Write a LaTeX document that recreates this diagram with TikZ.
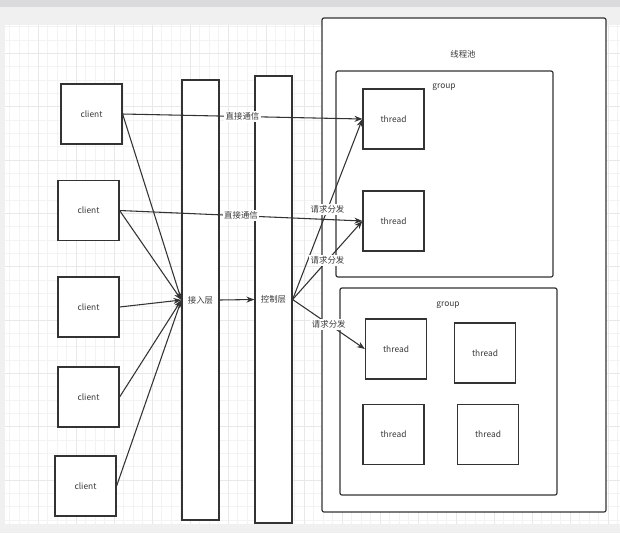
\documentclass[tikz,border=0pt]{standalone}
\usepackage{fontspec}
\setmainfont{Noto Sans CJK SC}
\usetikzlibrary{arrows.meta}

\definecolor{linegray}{HTML}{333333}
\definecolor{textgray}{HTML}{3A3A3A}
\definecolor{gridminor}{HTML}{F3F3F3}
\definecolor{gridmajor}{HTML}{E8E8E8}
\definecolor{bandgray}{HTML}{DADADD}
\definecolor{palegray}{HTML}{F0F0F0}

\begin{document}
\begin{tikzpicture}[x=0.75pt, y=-0.75pt,
  font=\fontsize{6.3}{7.5}\selectfont,
  box/.style={draw=linegray, line width=0.9pt, fill=white, text=textgray,
    minimum width=45.75pt, minimum height=45pt, inner sep=0pt},
  bar/.style={draw=linegray, line width=0.9pt, fill=white, text=textgray,
    minimum width=27.75pt, inner sep=0pt},
  frame/.style={draw=linegray, line width=0.9pt, fill=white,
    rounded corners=1.5pt, inner sep=0pt},
  link/.style={draw=linegray, line width=0.8pt, -{Stealth[length=6pt,width=4.5pt]}},
  tag/.style={fill=white, inner sep=1.2pt, text=textgray}]
\useasboundingbox (0,0) rectangle (620,533);

% canvas
\fill[white] (0,0) rectangle (620,533);
\draw[gridminor, line width=0.5pt, xstep=7.125pt, ystep=10pt] (5,25) grid (620,524);
\draw[gridmajor, line width=0.5pt, xstep=28.5pt, ystep=40pt] (5,25) grid (620,524);
\fill[palegray] (0,7) rectangle (620,25);
\fill[bandgray] (0,0) rectangle (620,7);
\fill[palegray] (0,7) rectangle (5,533);
\fill[palegray] (0,524) rectangle (620,533);

% thread pool
\node[frame, minimum width=213pt, minimum height=370.5pt] (pool) at (464,265) {};
\node[text=textgray] (pooltitle) at (463,54) {线程池};

\node[frame, minimum width=162.75pt, minimum height=154.5pt] (group1) at (444.5,174) {};
\node[text=textgray] (group1title) at (444,87) {group};
\node[box] (t1) at (393.5,119) {thread};
\node[box] (t2) at (393.5,221) {thread};

\node[frame, minimum width=162.75pt, minimum height=155.25pt] (group2) at (448.5,391.5) {};
\node[text=textgray] (group2title) at (448,305) {group};
\node[box] (t3) at (396,349) {thread};
\node[box] (t4) at (485,353) {thread};
\node[box] (t5) at (393.5,434.5) {thread};
\node[box] (t6) at (488,434.5) {thread};

% layers
\node[bar, minimum height=330pt] (access) at (200.5,300) {接入层};
\node[bar, minimum height=335.25pt] (ctrl) at (273.5,299.5) {控制层};

% clients
\node[box] (c1) at (91.5,114) {client};
\node[box] (c2) at (88.5,210.5) {client};
\node[box] (c3) at (88.5,307) {client};
\node[box] (c4) at (88.5,397) {client};
\node[box] (c5) at (85.5,486) {client};

% client -> access
\draw[link] (c1.east) -- (access.west);
\draw[link] (c2.east) -- (access.west);
\draw[link] (c3.east) -- (access.west);
\draw[link] (c4.east) -- (access.west);
\draw[link] (c5.east) -- (access.west);
\draw[link] (access.east) -- (ctrl.west);

% direct links
\draw[link] (c1.east) -- node[tag] {直接通信} (t1.west);
\draw[link] (c2.east) -- node[tag] {直接通信} (t2.west);

% dispatch
\draw[link] (ctrl.east) -- node[tag] {请求分发} (t1.west);
\draw[link] (ctrl.east) -- node[tag] {请求分发} (t2.west);
\draw[link] (ctrl.east) -- node[tag] {请求分发} (t3.west);
\end{tikzpicture}
\end{document}
